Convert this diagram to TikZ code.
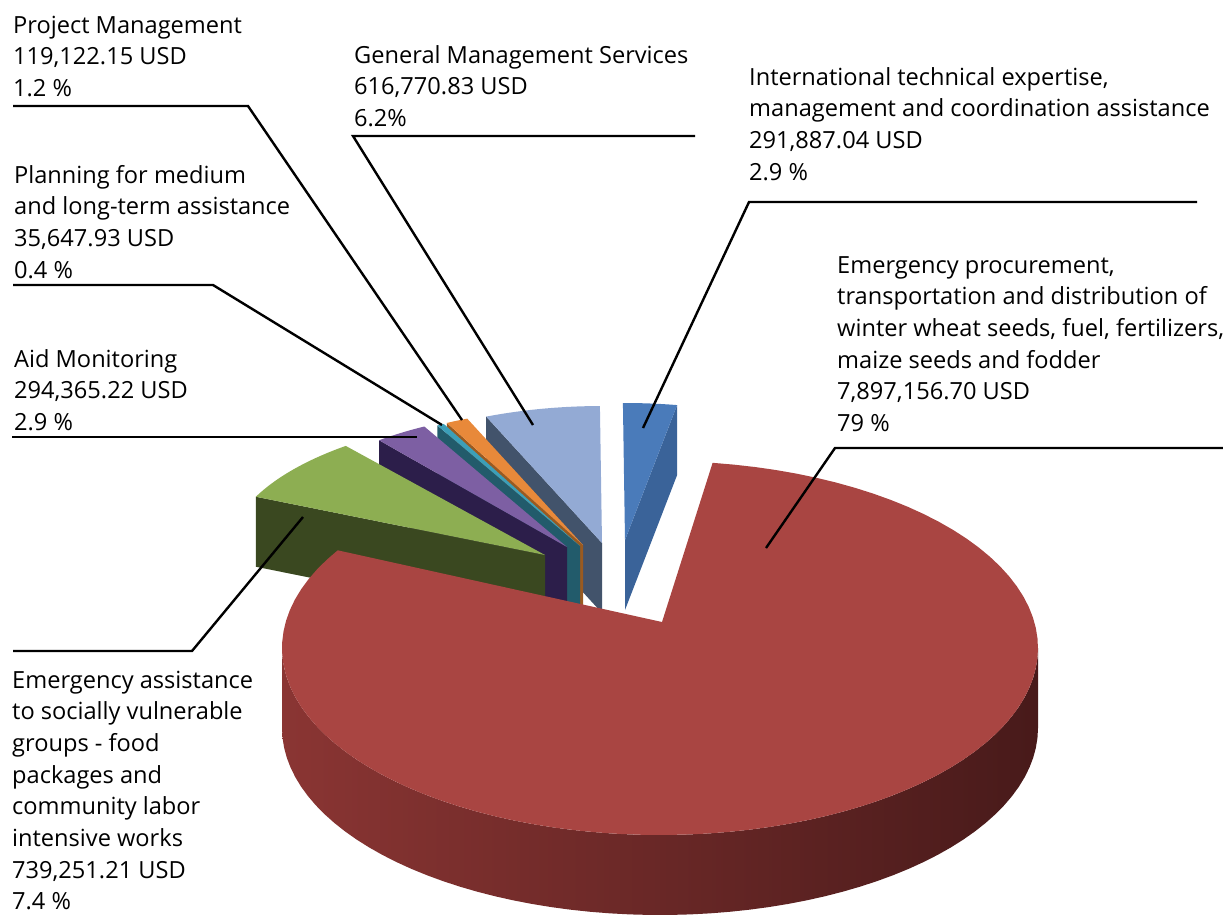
\documentclass[tikz,border=0pt]{standalone}
\usepackage{fontspec}
\setmainfont{Open Sans}
\definecolor{btop}{HTML}{4A7BBA}
\definecolor{bside}{HTML}{3A6399}
\definecolor{lbtop}{HTML}{93AAD4}
\definecolor{lbside}{HTML}{42536B}
\definecolor{otop}{HTML}{E8893A}
\definecolor{oside}{HTML}{9A5A20}
\definecolor{ttop}{HTML}{3C9FB8}
\definecolor{tside}{HTML}{225B6B}
\definecolor{ptop}{HTML}{7D5FA3}
\definecolor{pside}{HTML}{2C1E4A}
\definecolor{gtop}{HTML}{8DAE52}
\definecolor{gside}{HTML}{3A4820}
\definecolor{rtop}{HTML}{A94542}
\definecolor{rsideA}{HTML}{8A3533}
\definecolor{rsideB}{HTML}{672625}
\definecolor{rsideC}{HTML}{481A1A}
% apex x, apex y, a, b, t1, t2, colour
\newcommand\slicetop[7]{\fill[#7] (#1,#2) -- plot[domain=#5:#6,samples=30] ({#1+#3*cos(\x)},{#2-#4*sin(\x)}) -- cycle;}
% apex x, apex y, a, b, depth, angle, colour
\newcommand\slicecut[7]{\fill[#7] (#1,#2) -- ({#1+#3*cos(#6)},{#2-#4*sin(#6)}) -- ({#1+#3*cos(#6)},{#2-#4*sin(#6)+#5}) -- ({#1},{#2+#5}) -- cycle;}
\newcommand\labeltab[1]{\begin{tabular}[t]{@{}l@{}}#1\end{tabular}}
\begin{document}
\begin{tikzpicture}[x=1pt,y=-1pt,
  lbl/.style={anchor=base west, inner sep=0pt, font=\fontsize{23.6}{31.7}\selectfont},
  leader/.style={line width=2.4pt, black}]
\useasboundingbox (0,0) rectangle (1223,914);
% small slices, back to front
\slicecut{625}{540}{300}{137}{70}{80}{bside}
\slicetop{625}{540}{300}{137}{80}{90.4}{btop}
\slicecut{602}{543}{300}{137}{70}{112.7}{lbside}
\slicetop{602}{543}{300}{137}{90.4}{112.7}{lbtop}
\slicecut{583}{545}{300}{137}{70}{117}{oside}
\slicetop{583}{545}{300}{137}{112.7}{117}{otop}
\slicecut{580}{546}{300}{137}{70}{118.4}{tside}
\slicetop{580}{546}{300}{137}{117}{118.4}{ttop}
\slicecut{567}{547}{300}{137}{70}{128.8}{pside}
\slicetop{567}{547}{300}{137}{118.4}{128.8}{ptop}
\slicecut{545}{555}{318}{140}{70}{155.4}{gside}
\slicetop{545}{555}{318}{140}{128.8}{155.4}{gtop}
% big red slice
\shade[left color=rsideA, middle color=rsideB, right color=rsideC]
  plot[domain=180:360,samples=60] ({660+378*cos(\x)},{648-187*sin(\x)})
  -- plot[domain=360:180,samples=60] ({660+378*cos(\x)},{648-187*sin(\x)+80}) -- cycle;
\fill[rtop] (662,622) -- plot[domain=148.5:442,samples=90] ({660+378*cos(\x)},{648-187*sin(\x)}) -- cycle;

% labels
\node[lbl] (pm) at (13,33) {\labeltab{Project Management\\119,122.15 USD\\1.2 \%}};
\node[lbl] (gms) at (354,63) {\labeltab{General Management Services\\616,770.83 USD\\6.2\%}};
\node[lbl] (itl) at (749,85) {\labeltab{International technical expertise,\\management and coordination assistance\\291,887.04 USD\\2.9 \%}};
\node[lbl] (ep) at (837,273) {\labeltab{Emergency procurement,\\transportation and distribution of\\winter wheat seeds, fuel, fertilizers,\\maize seeds and fodder\\7,897,156.70 USD\\79 \%}};
\node[lbl] (pl) at (14,183) {\labeltab{Planning for medium\\and long-term assistance\\35,647.93 USD\\0.4 \%}};
\node[lbl] (aid) at (14,367) {\labeltab{Aid Monitoring\\294,365.22 USD\\2.9 \%}};
\node[lbl] (ea) at (12,688) {\labeltab{Emergency assistance\\to socially vulnerable\\groups - food\\packages and\\community labor\\intensive works\\739,251.21 USD\\7.4 \%}};

% leader line points
\coordinate (pmA) at (13,106); \coordinate (pmB) at (248,106); \coordinate (pmC) at (462,420);
\coordinate (gmsA) at (695,136); \coordinate (gmsB) at (353,136); \coordinate (gmsC) at (533,425);
\coordinate (itlA) at (1197,202); \coordinate (itlB) at (749,202); \coordinate (itlC) at (643,428);
\coordinate (epA) at (1223,448); \coordinate (epB) at (835,448); \coordinate (epC) at (766,548);
\coordinate (plA) at (13,285); \coordinate (plB) at (213,285); \coordinate (plC) at (442,425);
\coordinate (aidA) at (12,437); \coordinate (aidC) at (417,437);
\coordinate (eaA) at (13,651); \coordinate (eaB) at (192,651); \coordinate (eaC) at (303,517);

\draw[leader] (pmA) -- (pmB) -- (pmC);
\draw[leader] (gmsA) -- (gmsB) -- (gmsC);
\draw[leader] (itlA) -- (itlB) -- (itlC);
\draw[leader] (epA) -- (epB) -- (epC);
\draw[leader] (plA) -- (plB) -- (plC);
\draw[leader] (aidA) -- (aidC);
\draw[leader] (eaA) -- (eaB) -- (eaC);
\end{tikzpicture}
\end{document}
